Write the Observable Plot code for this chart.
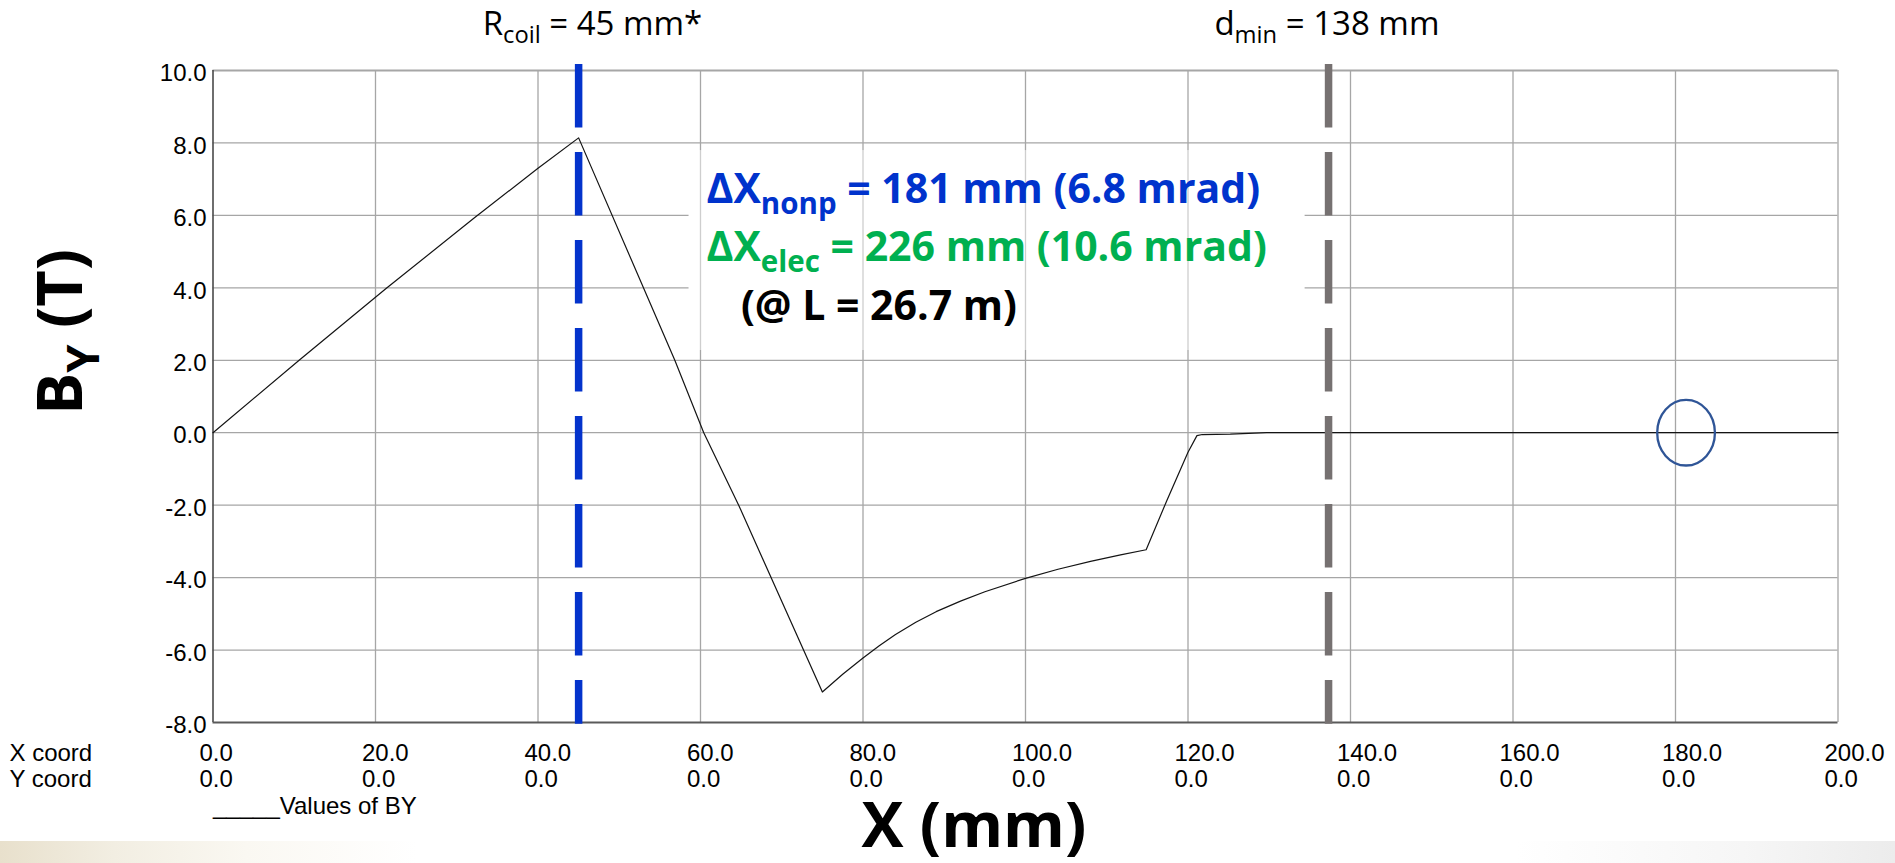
<!DOCTYPE html>
<html>
<head>
<meta charset="utf-8">
<script src="https://cdn.jsdelivr.net/npm/d3@7"></script>
<script src="https://cdn.jsdelivr.net/npm/@observablehq/plot@0.6"></script>
<style>
  html, body { margin: 0; padding: 0; background: #fff; overflow: hidden; }
  #wrap { position: relative; width: 1895px; height: 863px; }
  #strip { position: absolute; left: 0; bottom: 0; width: 1895px; height: 22px;
    background: linear-gradient(to right, #e8e0cc 0%, #f2eee2 6%, #faf8f2 13%, #ffffff 22%, #ffffff 80%, #f6f6f6 92%, #ececec 100%); }
  #chart { position: absolute; left: 0; top: 0; }
</style>
</head>
<body>
<div id="wrap"><div id="strip"></div><div id="chart"></div></div>
<script>
// ---- data ----
const xMm = [0, 10.6, 21.3, 32.1, 40, 45, 56.84, 60.4, 64.7, 75,
  77.5, 80, 82, 84, 86.5, 89, 92, 95, 100, 104, 108, 111.7, 114.85,
  117.4, 120.0, 121.1, 121.75, 125.2, 129.7, 200];
const byT = [0, 2, 3.98, 5.92, 7.3, 8.14, 2, 0, -2, -7.16,
  -6.67, -6.22, -5.88, -5.57, -5.23, -4.94, -4.65, -4.39, -4.02, -3.77, -3.55, -3.37, -3.23,
  -1.87, -0.54, -0.08, -0.05, -0.04, 0, 0];

const xTicks = [0, 20, 40, 60, 80, 100, 120, 140, 160, 180, 200];
const yTicks = [-8, -6, -4, -2, 0, 2, 4, 6, 8, 10];
const yCoordValues = [0, 0, 0, 0, 0, 0, 0, 0, 0, 0, 0];

const markerLines = [
  {name: "Rcoil", x: 45, y1: 10.166, y2: -8.05, color: "#0433cc"},
  {name: "dmin", x: 137.3, y1: 10.166, y2: -8.05, color: "#767171"}
];
const circled = [{x: 181.3, y: 0}];

const annotations = [
  {text: "R_{coil} = 45 mm*", x: 46.7, y: 10.986, anchor: "middle", size: 33, weight: 400, color: "#000000"},
  {text: "d_{min} = 138 mm", x: 137.1, y: 10.986, anchor: "middle", size: 33, weight: 400, color: "#000000"},
  {text: "ΔX_{nonp} = 181 mm (6.8 mrad)", x: 60.74, y: 6.337, anchor: "start", size: 41, weight: 700, color: "#0033cc"},
  {text: "ΔX_{elec} = 226 mm (10.6 mrad)", x: 60.74, y: 4.735, anchor: "start", size: 41, weight: 700, color: "#00b050"},
  {text: "(@ L = 26.7 m)", x: 64.97, y: 3.117, anchor: "start", size: 41, weight: 700, color: "#000000"},
  {text: "X (mm)", x: 93.64, y: -11.45, anchor: "middle", size: 63, weight: 700, color: "#000000"}
];
const textBox = [{x1: 58.6, x2: 134.4, y1: 2.27, y2: 7.79}];

// ---- build ----
const points = xMm.map((x, i) => ({x, y: byT[i]}));

const ellipseSymbol = {
  draw(ctx, size) {
    const ry = Math.sqrt(size / Math.PI), rx = ry * 0.88, k = 0.5523;
    ctx.moveTo(rx, 0);
    ctx.bezierCurveTo(rx, k * ry, k * rx, ry, 0, ry);
    ctx.bezierCurveTo(-k * rx, ry, -rx, k * ry, -rx, 0);
    ctx.bezierCurveTo(-rx, -k * ry, -k * rx, -ry, 0, -ry);
    ctx.bezierCurveTo(k * rx, -ry, rx, -k * ry, rx, 0);
    ctx.closePath();
  }
};

const tickFont = "'Liberation Sans', Arial, sans-serif";
const pptFont = "'Open Sans', 'Noto Sans', sans-serif";

const annotationMarks = annotations.map(a => Plot.text([a], {
  x: "x", y: "y", text: "text", textAnchor: a.anchor, lineAnchor: "bottom",
  fontSize: a.size, fontWeight: a.weight, fill: a.color, fontFamily: pptFont
}));

const chart = Plot.plot({
  width: 1895,
  height: 863,
  marginTop: 70,
  marginLeft: 212.5,
  marginRight: 57.5,
  marginBottom: 141,
  style: {background: "transparent", fontFamily: tickFont, fontSize: "24px", overflow: "visible"},
  x: {domain: [0, 200], axis: null},
  y: {domain: [-8, 10], axis: null},
  marks: [
    // horizontal grid
    Plot.ruleY(yTicks.filter(d => d > -8 && d < 10), {y: d => d, stroke: "#a6a6a6", strokeWidth: 1.3}),
    Plot.ruleY([10], {y: d => d, stroke: "#a6a6a6", strokeWidth: 2.2}),
    // text box background (hides horizontal grid)
    Plot.rect(textBox, {x1: "x1", x2: "x2", y1: "y1", y2: "y2", fill: "#ffffff"}),
    // vertical grid
    Plot.ruleX(xTicks.filter(d => d > 0), {x: d => d, stroke: "#a6a6a6", strokeWidth: 1.3}),
    Plot.rect(textBox, {x1: "x1", x2: "x2", y1: "y1", y2: "y2", fill: "#ffffff", fillOpacity: 0.45}),
    // frame
    Plot.ruleX([0], {x: d => d, stroke: "#4a4a4a", strokeWidth: 1.6}),
    Plot.ruleY([-8], {y: d => d, stroke: "#5a5a5a", strokeWidth: 2.2}),
    // data
    Plot.line(points, {x: "x", y: "y", stroke: "#141414", strokeWidth: 1.2}),
    // dashed markers
    Plot.ruleX(markerLines, {x: "x", y1: "y1", y2: "y2", stroke: "color", strokeWidth: 7.5, strokeDasharray: "63.5,24.5"}),
    // circled point
    Plot.dot(circled, {x: "x", y: "y", r: 32.8, symbol: ellipseSymbol, stroke: "#2f5597", strokeWidth: 2.3, fill: "none"}),
    // y tick labels
    Plot.text(yTicks, {y: d => d, frameAnchor: "left", text: d => d.toFixed(1), textAnchor: "end", dx: -6.5, dy: 3, fill: "#000"}),
    // x coordinate rows
    Plot.text(xTicks, {x: d => d, frameAnchor: "bottom", text: d => d.toFixed(1), textAnchor: "start", lineAnchor: "bottom", dx: -13.5, dy: 38, fill: "#000"}),
    Plot.text(xTicks, {x: d => d, frameAnchor: "bottom", text: (d, i) => yCoordValues[i].toFixed(1), textAnchor: "start", lineAnchor: "bottom", dx: -13.5, dy: 64.7, fill: "#000"}),
    Plot.text(["X coord"], {frameAnchor: "bottom-left", text: d => d, textAnchor: "start", lineAnchor: "bottom", dx: -203.5, dy: 38, fill: "#000"}),
    Plot.text(["Y coord"], {frameAnchor: "bottom-left", text: d => d, textAnchor: "start", lineAnchor: "bottom", dx: -203.5, dy: 64.7, fill: "#000"}),
    Plot.text(["_____Values of BY"], {frameAnchor: "bottom-left", text: d => d, textAnchor: "start", lineAnchor: "bottom", dx: 0, dy: 91.3, fill: "#000"}),
    // y axis title
    Plot.text(["B_{Y} (T)"], {x: () => -16.1, y: () => 2.78, text: d => d, rotate: -90, textAnchor: "middle", lineAnchor: "bottom", fontSize: 63, fontWeight: 700, fontFamily: pptFont, fill: "#000"}),
    ...annotationMarks
  ]
});

document.getElementById("chart").appendChild(chart);

// subscripts: turn "_{...}" into lowered, smaller tspans
d3.select(chart).selectAll("text").each(function () {
  const t = this.textContent;
  if (!t.includes("_{")) return;
  const fs = parseFloat(getComputedStyle(this).fontSize);
  const sub = 0.72, shift = 0.26 * fs;
  const parts = t.split(/(_\{[^}]*\})/);
  this.textContent = "";
  let lowered = false;
  for (const p of parts) {
    if (!p) continue;
    const ts = document.createElementNS("http://www.w3.org/2000/svg", "tspan");
    if (p.startsWith("_{")) {
      ts.textContent = p.slice(2, -1);
      ts.setAttribute("font-size", (fs * sub).toFixed(2));
      ts.setAttribute("dy", shift.toFixed(2));
      lowered = true;
    } else {
      ts.textContent = p;
      if (lowered) { ts.setAttribute("dy", (-shift).toFixed(2)); lowered = false; }
    }
    this.appendChild(ts);
  }
});
</script>
</body>
</html>
